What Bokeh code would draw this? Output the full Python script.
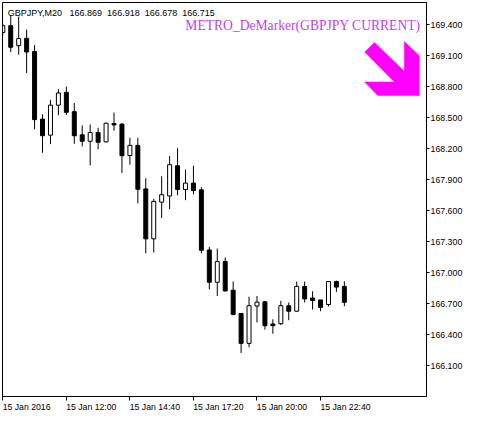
from bokeh.plotting import figure
from bokeh.models import (ColumnDataSource, Range1d, FixedTicker, PrintfTickFormatter,
                          Label)
from bokeh.embed import file_html
from bokeh.resources import INLINE

# GBPJPY M20 bars, 15 Jan 2016 09:20 .. 23:40
opens = [169.325, 169.391, 169.197, 169.269, 169.141, 168.487, 168.332, 168.622,
         168.746, 168.559, 168.335, 168.273, 168.357, 168.267, 168.445, 168.438,
         168.135, 168.233, 167.812, 167.329, 167.684, 167.744, 168.036, 167.806,
         167.868, 167.803, 167.221, 166.909, 167.110, 166.832, 166.607, 166.318,
         166.679, 166.720, 166.505, 166.508, 166.682, 166.629, 166.869, 166.757,
         166.738, 166.694, 166.916, 166.869]
highs = [169.410, 169.493, 169.478, 169.353, 169.204, 168.534, 168.674, 168.777,
         168.802, 168.643, 168.426, 168.435, 168.403, 168.454, 168.550, 168.450,
         168.307, 168.307, 167.915, 167.716, 167.934, 168.130, 168.205, 167.999,
         168.036, 167.828, 167.252, 167.235, 167.149, 166.916, 166.607, 166.769,
         166.776, 166.729, 166.551, 166.729, 166.713, 166.916, 166.916, 166.822,
         166.738, 166.916, 166.925, 166.918]
lows = [169.300, 169.136, 169.110, 168.933, 168.389, 168.161, 168.245, 168.525,
        168.529, 168.248, 168.223, 168.039, 168.195, 168.263, 168.375, 167.966,
        168.046, 167.672, 167.189, 167.196, 167.532, 167.616, 167.750, 167.703,
        167.759, 167.189, 166.841, 166.776, 166.820, 166.589, 166.225, 166.281,
        166.521, 166.451, 166.411, 166.495, 166.542, 166.625, 166.713, 166.645,
        166.629, 166.676, 166.816, 166.678]
closes = [169.391, 169.182, 169.266, 169.136, 168.482, 168.326, 168.622, 168.740,
          168.553, 168.326, 168.273, 168.357, 168.263, 168.447, 168.431, 168.133,
          168.233, 167.808, 167.329, 167.691, 167.756, 168.046, 167.806, 167.868,
          167.796, 167.219, 166.909, 167.109, 166.825, 166.598, 166.318, 166.682,
          166.717, 166.489, 166.489, 166.682, 166.629, 166.869, 166.748, 166.732,
          166.666, 166.916, 166.862, 166.715]

yticks = [166.1, 166.4, 166.7, 167.0, 167.3, 167.6, 167.9, 168.2, 168.5, 168.8,
          169.1, 169.4]
xtick_pos = [0, 8, 16, 24, 32, 40]
xtick_labels = ["15 Jan 2016", "15 Jan 12:00", "15 Jan 14:40", "15 Jan 17:20",
                "15 Jan 20:00", "15 Jan 22:40"]

header = ["GBPJPY,M20", "166.869", "166.918", "166.678", "166.715"]
indicator = "METRO_DeMarker(GBPJPY CURRENT)"

# the indicator's signal arrow (bar index, price)
arrow_x = [46.80, 50.55, 50.55, 52.43, 52.43, 47.21, 45.55, 49.30, 45.55]
arrow_y = [169.229, 168.949, 169.238, 169.101, 168.715, 168.715, 168.846, 168.846,
           169.136]

FONT = "Liberation Sans"
LABEL_PX = 8.7
BAR_PX = 8.0  # pixels per bar on the frame

# rough Liberation Sans advance widths (em) to left-align the time labels
ADV = {" ": 0.278, ":": 0.278, "J": 0.5}


def text_width(s, size):
    return sum(ADV.get(ch, 0.556) for ch in s) * size


idx = list(range(len(opens)))
bull = [c >= o for o, c in zip(opens, closes)]
src = ColumnDataSource(dict(
    x=idx, high=highs, low=lows,
    top=[max(o, c) for o, c in zip(opens, closes)],
    bottom=[min(o, c) for o, c in zip(opens, closes)],
    fill=["white" if b else "black" for b in bull],
))

p = figure(width=465, height=414,
           x_range=Range1d(-0.0375, 53.34), y_range=Range1d(165.804, 169.615),
           y_axis_location="right", toolbar_location=None, output_backend="svg",
           min_border_left=2, min_border_top=2, min_border_right=36,
           min_border_bottom=15)
p.grid.visible = False
p.outline_line_color = "black"
p.outline_line_alpha = 1.0
p.background_fill_color = "white"
p.border_fill_color = "white"

p.segment(x0="x", y0="low", x1="x", y1="high", source=src,
          line_color="black", line_width=1)
p.vbar(x="x", top="top", bottom="bottom", width=0.5, source=src,
       fill_color="fill", line_color="black", line_width=1)

p.patch(arrow_x, arrow_y, fill_color="#ff00ff", line_color="#ff00ff", line_width=0.5)

ya = p.yaxis[0]
ya.ticker = FixedTicker(ticks=yticks)
ya.formatter = PrintfTickFormatter(format="%.3f")
ya.major_tick_in = 0
ya.major_tick_out = 3
ya.minor_tick_line_color = None
ya.major_label_standoff = 1
ya.major_label_text_font = FONT
ya.major_label_text_font_size = "8.8px"
ya.major_label_text_color = "black"
ya.axis_line_color = "black"
ya.major_tick_line_color = "black"

# MT4 puts the time label to the right of its tick: labels sit on (hidden) major
# ticks shifted by half their width, the visible tick marks are the minor ticks
label_ticks = [round(t + text_width(s, LABEL_PX) / 2 / BAR_PX, 3)
               for t, s in zip(xtick_pos, xtick_labels)]
xa = p.xaxis[0]
xa.ticker = FixedTicker(ticks=label_ticks, minor_ticks=xtick_pos)
xa.major_label_overrides = dict(zip(label_ticks, xtick_labels))
xa.major_tick_in = 0
xa.major_tick_out = 0
xa.major_tick_line_color = None
xa.minor_tick_in = 0
xa.minor_tick_out = 4
xa.minor_tick_line_color = "black"
xa.major_label_standoff = 1
xa.major_label_text_font = FONT
xa.major_label_text_font_size = f"{LABEL_PX}px"
xa.major_label_text_color = "black"
xa.axis_line_color = "black"

p.add_layout(Label(x=0.62, y=169.509,
                   text=header[0] + "\u00a0\u00a0\u00a0" + "\u00a0\u00a0".join(header[1:]),
                   text_font=FONT, text_font_size="9px", text_color="black",
                   text_baseline="alphabetic"))
p.add_layout(Label(x=52.59, y=169.391, text=indicator, text_font="Liberation Serif",
                   text_font_size="13.6px", text_color="#bf3fea",
                   text_align="right", text_baseline="alphabetic"))

open("out.html", "w").write(file_html(p, INLINE))
